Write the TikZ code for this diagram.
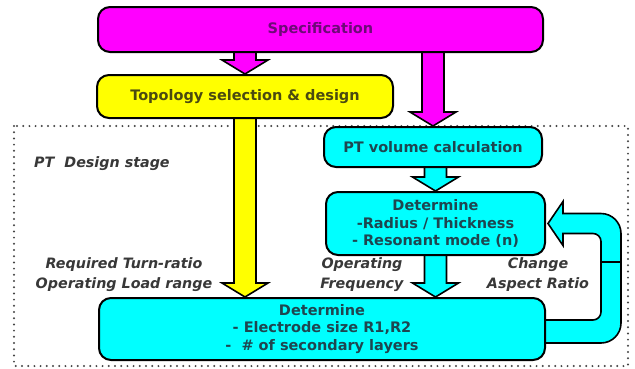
\documentclass[tikz,border=0pt]{standalone}
\usepackage{fontspec}
\setmainfont{DejaVu Sans}
\usetikzlibrary{calc}
\pgfdeclarelayer{frame}
\pgfdeclarelayer{bg}
\pgfsetlayers{frame,bg,main}
\definecolor{mag}{HTML}{FF00FF}
\definecolor{yel}{HTML}{FFFF00}
\definecolor{cya}{HTML}{00FFFF}
\definecolor{magtext}{HTML}{6E0A78}
\definecolor{yeltext}{HTML}{4A4A10}
\definecolor{cyatext}{HTML}{1E4650}
\definecolor{labeltext}{HTML}{383838}
\definecolor{dotgray}{HTML}{444444}
\tikzset{
  box/.style={draw=black, line width=2pt, rounded corners=12pt, inner sep=0pt,
    font=\bfseries\fontsize{14.5}{17.5}\selectfont, align=center},
  blockline/.style={draw=black, line width=1.6pt, line join=miter},
  lbl/.style={font=\bfseries\itshape\fontsize{14.3}{20}\selectfont, text=labeltext,
    align=center, inner sep=0pt},
  stageframe/.style={draw=dotgray, line width=2.2pt, line cap=round,
    dash pattern=on 0pt off 6.2pt},
}
\newcommand{\vblock}[3]{%
  \draw[blockline, fill=#1] let \p1=#2, \p2=#3 in
    (\x2-11pt,\y1) -- (\x2-11pt,\y2+14pt) -- (\x2-23pt,\y2+14pt) -- (\x2,\y2)
    -- (\x2+23pt,\y2+14pt) -- (\x2+11pt,\y2+14pt) -- (\x2+11pt,\y1) -- cycle;}
\begin{document}
\begin{tikzpicture}[x=1pt,y=1pt]
\useasboundingbox (0,0) rectangle (635,-368);

% nodes
\node[box, fill=mag, text=magtext, minimum width=445pt, minimum height=45pt] (spec) at (320.5,-29.5) {Specification};
\node[box, fill=yel, text=yeltext, minimum width=296pt, minimum height=43pt] (topo) at (245,-96.5) {Topology selection \& design};
\node[box, fill=cya, text=cyatext, minimum width=218pt, minimum height=40pt] (ptvol) at (433,-147) {PT volume calculation};
\node[box, fill=cya, text=cyatext, minimum width=219pt, minimum height=63pt] (det1) at (435.5,-223.5) {Determine\\-Radius / Thickness\\- Resonant mode (n)};
\node[box, fill=cya, text=cyatext, minimum width=446pt, minimum height=62pt] (det2) at (322,-329) {Determine\\- Electrode size R1,R2\\-\ \ \# of secondary layers};

\begin{pgfonlayer}{frame}
  \fill[white] (0,0) rectangle (635,-368);
  \draw[stageframe] (14,-126) rectangle (628,-366);
  \node[lbl, anchor=west] (stage) at (34,-164) {PT\ \ Design stage};
  \node[lbl] (turn) at (124,-275) {Required Turn-ratio\\Operating Load range};
  \node[lbl] (freq) at (362,-275) {Operating\\Frequency};
  \node[lbl] (aspect) at (538,-275) {Change\\Aspect Ratio};
\end{pgfonlayer}

\begin{pgfonlayer}{bg}
  \vblock{mag}{([yshift=6pt]spec.south)}{(topo.north)}
  \vblock{mag}{([yshift=6pt]spec.south)}{(ptvol.north)}
  \vblock{yel}{([yshift=6pt]topo.south)}{(det2.north -| topo.south)}
  \vblock{cya}{([yshift=6pt]ptvol.south)}{(det1.north)}
  \vblock{cya}{([yshift=6pt]det1.south)}{(det2.north -| det1.south)}
  % feedback arrow
  \draw[blockline, fill=cya] let \p1=(det1.east), \p2=(det2.east) in
    (\x1+2pt,\y1) -- (\x1+17pt,\y1+22pt) -- (\x1+17pt,\y1+10pt)
    -- (\x1+55pt,\y1+10pt) arc[start angle=90,end angle=0,radius=20pt]
    -- (\x1+75pt,\y2+6pt) arc[start angle=0,end angle=-90,radius=20pt]
    -- (\x2-10pt,\y2-14pt) -- (\x2-10pt,\y2+9pt)
    -- (\x1+47pt,\y2+9pt) arc[start angle=-90,end angle=0,radius=8pt]
    -- (\x1+55pt,\y1-18pt) arc[start angle=0,end angle=90,radius=8pt]
    -- (\x1+17pt,\y1-10pt) -- (\x1+17pt,\y1-22pt) -- cycle;
  \draw[line width=1.4pt] let \p1=(det1.east) in (\x1+55pt,\y1-38.5pt) -- (\x1+75pt,\y1-38.5pt);
\end{pgfonlayer}
\end{tikzpicture}
\end{document}
